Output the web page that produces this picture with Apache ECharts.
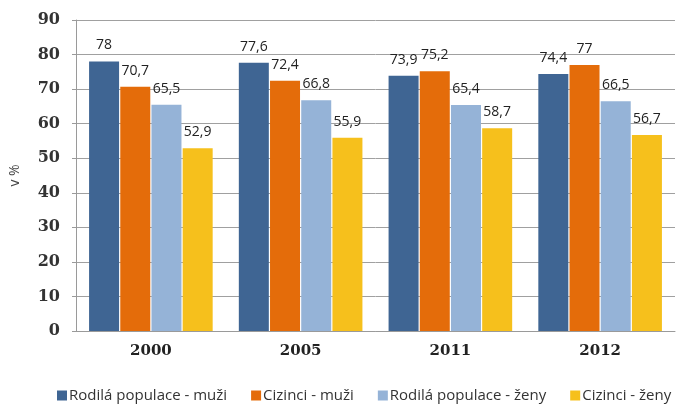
<!DOCTYPE html>
<html><head><meta charset="utf-8">
<script src="https://cdn.jsdelivr.net/npm/echarts@6/dist/echarts.min.js"></script>
<style>html,body{margin:0;padding:0;background:#fff}#c{width:677px;height:409px}</style>
</head><body><div id="c"></div>
<script>
const categories = ['2000', '2005', '2011', '2012'];
const seriesNames = ['Rodilá populace - muži', 'Cizinci - muži', 'Rodilá populace - ženy', 'Cizinci - ženy'];
const rodilaMuzi = [78, 77.6, 73.9, 74.4];
const ciziMuzi = [70.7, 72.4, 75.2, 77];
const rodilaZeny = [65.5, 66.8, 65.4, 66.5];
const ciziZeny = [52.9, 55.9, 58.7, 56.7];
const yTicks = [0, 10, 20, 30, 40, 50, 60, 70, 80, 90];
const colors = ['#3f6593', '#e46c0a', '#95b3d7', '#f6c01c'];

const values = [rodilaMuzi, ciziMuzi, rodilaZeny, ciziZeny];
const chart = echarts.init(document.getElementById('c'));
chart.setOption({
  animation: false,
  grid: { left: 72, right: 2, top: 20, bottom: 78 },
  legend: {
    bottom: 1, left: 52, right: 0, itemWidth: 10, itemHeight: 10, itemGap: 24,
    icon: 'rect',
    textStyle: { fontFamily: 'Open Sans', fontSize: 15, color: '#333', padding: [0, 0, 0, -3] },
    data: seriesNames
  },
  xAxis: {
    type: 'category', data: categories,
    axisLine: { lineStyle: { color: '#9a9a9a' } },
    axisTick: { show: false },
    axisLabel: { fontFamily: 'DejaVu Serif', fontWeight: 'bold', fontSize: 15, color: '#222', margin: 13 }
  },
  yAxis: {
    type: 'value', min: yTicks[0], max: yTicks[yTicks.length - 1], interval: 10,
    name: 'v %', nameLocation: 'middle', nameGap: 54, nameRotate: 90,
    nameTextStyle: { fontFamily: 'Open Sans', fontSize: 14, color: '#444' },
    axisLine: { show: true, lineStyle: { color: '#9a9a9a' } },
    axisTick: { show: true, length: 4, lineStyle: { color: '#9a9a9a' } },
    splitLine: { lineStyle: { color: '#a0a0a0' } },
    axisLabel: { fontFamily: 'DejaVu Serif', fontWeight: 'bold', fontSize: 16, color: '#333', margin: 16 }
  },
  series: seriesNames.map((n, i) => ({
    name: n, type: 'bar', data: values[i], barWidth: 30, barGap: '4%',
    itemStyle: { color: colors[i] },
    label: {
      show: true, position: 'top', distance: 9,
      fontFamily: 'Open Sans', fontSize: 14, color: '#222',
      formatter: p => String(p.value).replace('.', ',')
    }
  }))
});
</script></body></html>
